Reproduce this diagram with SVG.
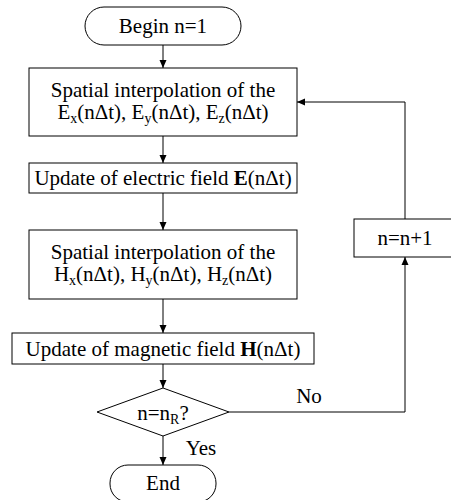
<svg xmlns="http://www.w3.org/2000/svg" width="451" height="500" viewBox="0 0 451 500">
<style>
.shape{fill:#fff;stroke:#000;stroke-width:1}
.t{font-family:"Liberation Serif","Times New Roman",serif;font-size:21px;fill:#000;text-anchor:middle}
.sub{font-size:14px}
.con{fill:none;stroke:#000;stroke-width:1}
</style>
<defs>
<marker id="arr" markerWidth="8" markerHeight="8" refX="8" refY="4" orient="auto" markerUnits="userSpaceOnUse">
<path d="M0,0.5 L8,4 L0,7.5 z" fill="#000"/>
</marker>
</defs>
<rect width="451" height="500" fill="#fff"/>
<g id="connectors">
<line class="con" x1="163" y1="45" x2="163" y2="68" marker-end="url(#arr)"/>
<line class="con" x1="163" y1="136" x2="163" y2="163" marker-end="url(#arr)"/>
<line class="con" x1="163" y1="193" x2="163" y2="230" marker-end="url(#arr)"/>
<line class="con" x1="163" y1="299" x2="163" y2="333" marker-end="url(#arr)"/>
<line class="con" x1="163" y1="364" x2="163" y2="388" marker-end="url(#arr)"/>
<line class="con" x1="163" y1="436" x2="163" y2="465" marker-end="url(#arr)"/>
<polyline class="con" points="229,412 405,412 405,257" marker-end="url(#arr)"/>
<polyline class="con" points="405,219 405,102 297,102" marker-end="url(#arr)"/>
<text class="t" x="309" y="403">No</text>
<text class="t" x="201" y="455">Yes</text>
</g>
<g id="begin">
<rect class="shape" x="85" y="7" width="156" height="38" rx="19" ry="19"/>
<text class="t" x="163" y="33">Begin n=1</text>
</g>
<g id="interpE">
<rect class="shape" x="29" y="68" width="268" height="68"/>
<text class="t" x="163" y="97">Spatial interpolation of the</text>
<text class="t" x="163" y="119">E<tspan class="sub" dy="4">x</tspan><tspan dy="-4">(nΔt), E</tspan><tspan class="sub" dy="4">y</tspan><tspan dy="-4">(nΔt), E</tspan><tspan class="sub" dy="4">z</tspan><tspan dy="-4">(nΔt)</tspan></text>
</g>
<g id="updateE">
<rect class="shape" x="29" y="163" width="268" height="30"/>
<text class="t" x="163" y="185">Update of electric field <tspan font-weight="bold">E</tspan>(nΔt)</text>
</g>
<g id="interpH">
<rect class="shape" x="29" y="230" width="268" height="69"/>
<text class="t" x="163" y="259">Spatial interpolation of the</text>
<text class="t" x="163" y="281">H<tspan class="sub" dy="4">x</tspan><tspan dy="-4">(nΔt), H</tspan><tspan class="sub" dy="4">y</tspan><tspan dy="-4">(nΔt), H</tspan><tspan class="sub" dy="4">z</tspan><tspan dy="-4">(nΔt)</tspan></text>
</g>
<g id="updateH">
<rect class="shape" x="12" y="333" width="302" height="31"/>
<text class="t" x="163" y="356">Update of magnetic field <tspan font-weight="bold">H</tspan>(nΔt)</text>
</g>
<g id="decision">
<polygon class="shape" points="163,388 229,412 163,436 97,412"/>
<text class="t" x="163" y="420">n=n<tspan class="sub" dy="4">R</tspan><tspan dy="-4">?</tspan></text>
</g>
<g id="increment">
<rect class="shape" x="354" y="219" width="102" height="38"/>
<text class="t" x="405" y="245">n=n+1</text>
</g>
<g id="end">
<rect class="shape" x="110" y="465" width="106" height="37" rx="18" ry="18"/>
<text class="t" x="163" y="490">End</text>
</g>
</svg>
